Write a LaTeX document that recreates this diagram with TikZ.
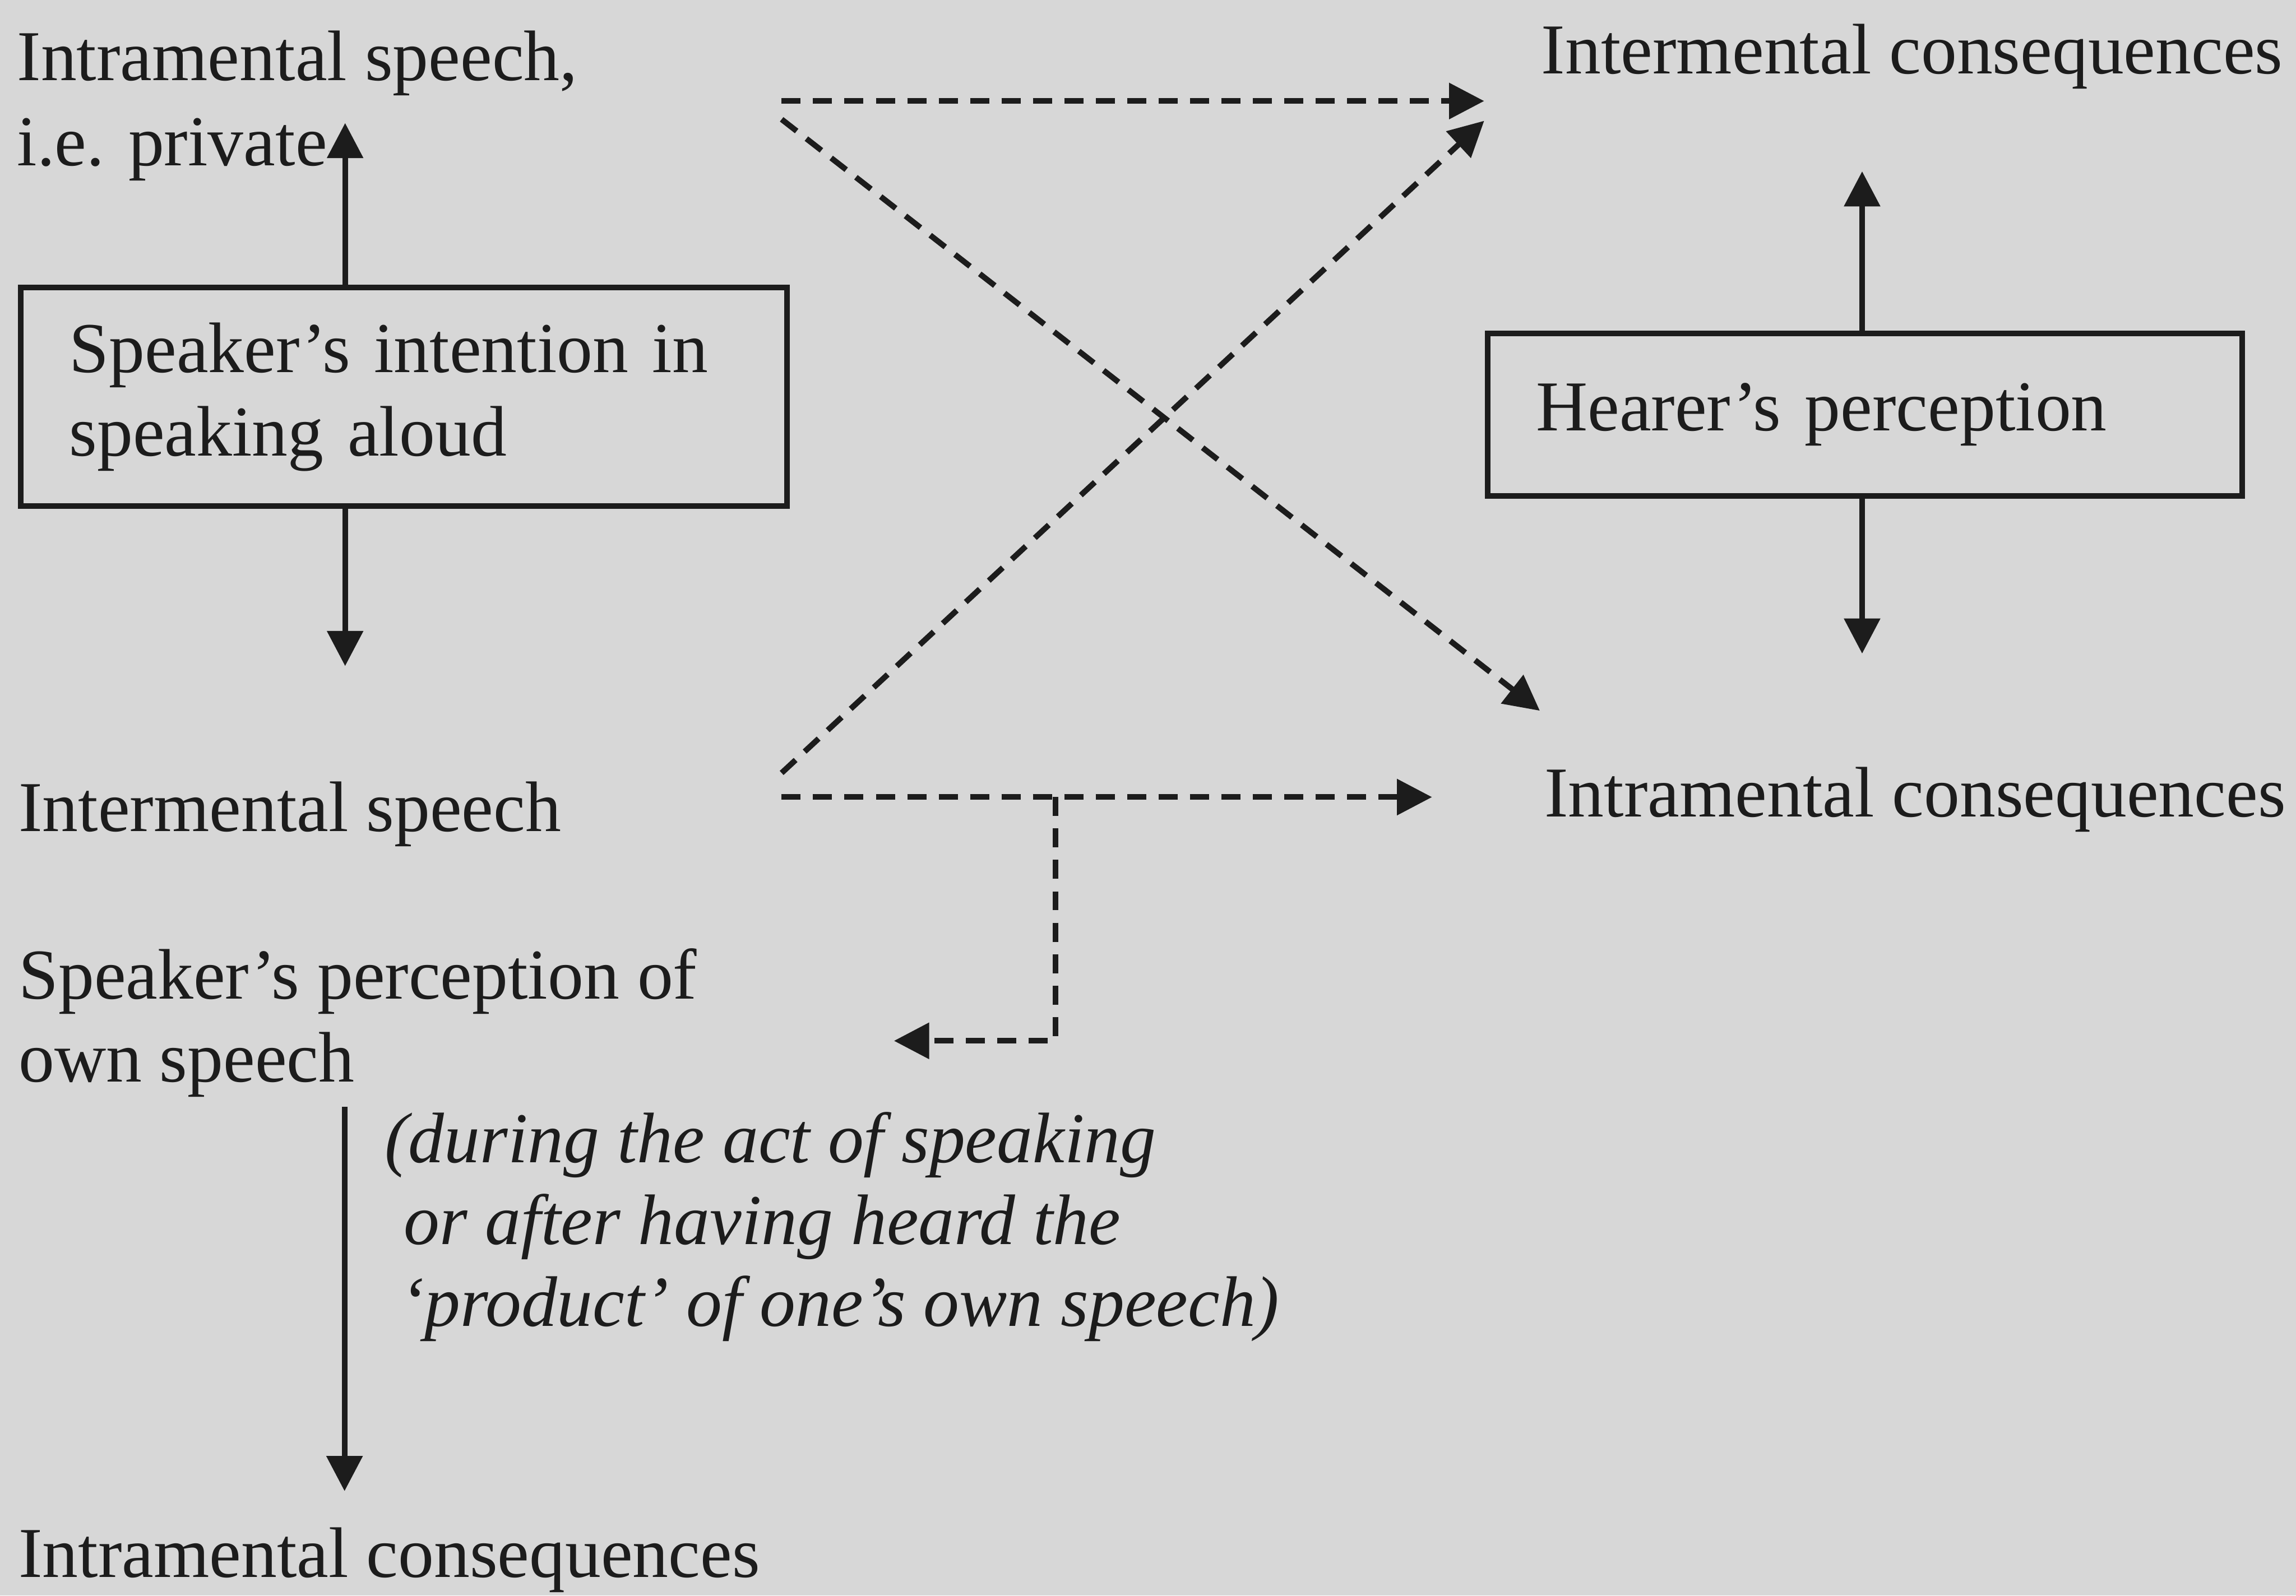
\documentclass[tikz,border=0pt]{standalone}
\usepackage{fontspec}
\setmainfont{Liberation Serif}
\usetikzlibrary{arrows.meta}
\definecolor{bg}{HTML}{D7D7D7}
\definecolor{ink}{HTML}{1C1C1C}
\begin{document}
\begin{tikzpicture}[x=0.01cm,y=-0.01cm,
  txt/.style={inner sep=0pt, anchor=base west, align=left, text=ink,
    font=\fontsize{13.9}{16.3}\selectfont},
  itxt/.style={txt, font=\fontsize{13.9}{15.9}\selectfont\itshape},
  boxnode/.style={draw=ink, line width=1.1pt, inner ysep=0pt, align=left,
    anchor=north west, text=ink, font=\fontsize{13.9}{16.2}\selectfont},
  conn/.style={draw=ink, line width=1.1pt, -{Triangle[length=0.24cm,width=0.24cm]}},
  dconn/.style={conn, dash pattern=on 3.7pt off 2.4pt}]
\fill[bg] (0,0) rectangle (1568,1090);
\useasboundingbox (0,0) rectangle (1568,1090);

% left column (multi-line nodes are anchored at their last baseline)
\node[txt, font=\fontsize{13.9}{16.5}\selectfont] (intra1) at (11,113) {Intramental speech,\\i.e. private};
\node[boxnode, inner xsep=0.33cm, text width=4.57cm, minimum height=1.49cm] (intent) at (12.4,194.6)
  {Speaker’s intention in\\speaking aloud};
\node[txt] (inter1) at (12,568) {Intermental speech};
\node[txt, font=\fontsize{13.9}{16.1}\selectfont] (percep) at (12,739) {Speaker’s perception of\\own speech};
\node[itxt] (note) at (262,906) {(during the act of speaking\\\hspace*{0.13cm}or after having heard the\\\hspace*{0.11cm}‘product’ of one’s own speech)};
\node[txt] (intra3) at (12,1077.6) {Intramental consequences};

% right column
\node[txt] (interC) at (1052,50.2) {Intermental consequences};
\node[boxnode, inner xsep=0.33cm, text width=4.49cm, minimum height=1.108cm] (hearer) at (1014,225.9)
  {Hearer’s perception};
\node[txt] (intraC) at (1054,558) {Intramental consequences};

% endpoints
\coordinate (upA) at (235.7,84);
\coordinate (dnA) at (235.7,455);
\coordinate (upB) at (1271.7,117);
\coordinate (dnB) at (1271.7,446.5);
\coordinate (ownT) at (235.3,756);
\coordinate (ownB) at (235.3,1018.6);
\coordinate (s1) at (533.8,69);
\coordinate (e1) at (1013.6,69);
\coordinate (s2) at (533.8,81.5);
\coordinate (e2) at (1051.6,485.5);
\coordinate (s3) at (533.8,528);
\coordinate (e3) at (1013.6,82.5);
\coordinate (s4) at (533.8,544.5);
\coordinate (e4) at (978,544.5);
\coordinate (br) at (720.7,544.5);
\coordinate (brc) at (720.7,711);
\coordinate (bre) at (610.5,711);

% solid arrows
\draw[conn] (intent.north -| upA) -- (upA);
\draw[conn] (intent.south -| dnA) -- (dnA);
\draw[conn] (hearer.north -| upB) -- (upB);
\draw[conn] (hearer.south -| dnB) -- (dnB);
\draw[conn] (ownT) -- (ownB);

% dashed arrows
\draw[dconn] (s1) -- (e1);
\draw[dconn] (s2) -- (e2);
\draw[dconn] (s3) -- (e3);
\draw[dconn] (s4) -- (e4);
\draw[dconn] (br) -- (brc) -- (bre);
\end{tikzpicture}
\end{document}
